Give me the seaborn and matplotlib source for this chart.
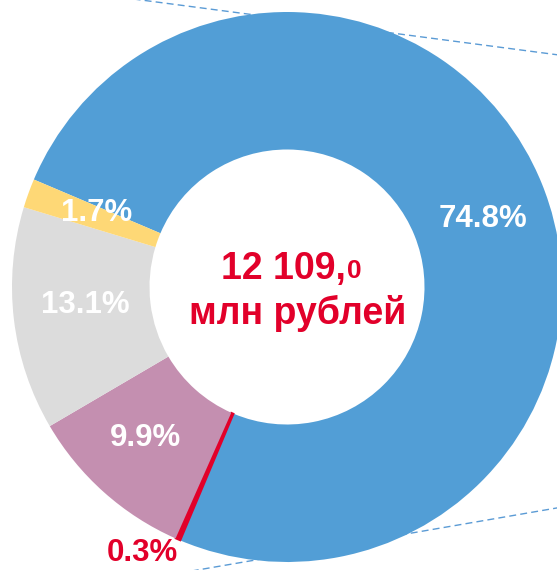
import numpy as np
import seaborn as sns
import matplotlib
matplotlib.use('Agg')
import matplotlib.pyplot as plt

# shares of the total, clockwise from the blue segment
labels = ['74.8%', '0.3%', '9.9%', '13.1%', '1.7%']
shares = [74.8, 0.3, 9.9, 13.1, 1.7]
colors = ['#529ED6', '#E2002A', '#C48FB0', '#DCDCDC', '#FED876']
label_colors = ['white', '#E2002A', 'white', 'white', 'white']
total_big = '12 109,'
total_small = '0'
total_unit = 'млн рублей'

sns.set_style('white')
plt.rcParams['font.family'] = ['Liberation Sans', 'DejaVu Sans']

fig = plt.figure(figsize=(5.57, 5.70), dpi=100)
ax = fig.add_axes([0, 0, 1, 1])

# connector lines behind the donut
ax.plot([-0.70, 1.10], [1.066, 0.829], ls=(0, (5, 3)), color='#5B9BD5', lw=1, zorder=0)
ax.plot([-0.40, 1.10], [-1.042, -0.783], ls=(0, (5, 3)), color='#5B9BD5', lw=1, zorder=0)

wedges, _ = ax.pie(shares, colors=colors, startangle=157, counterclock=False,
                   radius=1.0, wedgeprops=dict(width=0.5, edgecolor='none'))
for w in wedges:
    w.set_zorder(1)
# the thin red slice reads a bit wider in the original
wedges[1].set_edgecolor('#E2002A')
wedges[1].set_linewidth(1.2)

# label placement (data units, manual like the original)
label_pos = [(0.713, 0.247), (-0.527, -0.968), (-0.516, -0.549),
             (-0.735, -0.065), (-0.691, 0.269)]
for txt, (x, y), c in zip(labels, label_pos, label_colors):
    ax.text(x, y, txt, ha='center', va='center', color=c,
            fontsize=22.5, fontweight='bold', zorder=3)

t = ax.text(-0.013, 0.066, total_big, ha='center', va='center', color='#E2002A',
            fontsize=27, fontweight='bold', zorder=3)
ax.annotate(total_small, xy=(1, 0.1), xycoords=t, xytext=(1, 0),
            textcoords='offset points', ha='left', va='bottom',
            color='#E2002A', fontsize=19, fontweight='bold', zorder=3)
ax.text(0.038, -0.098, total_unit, ha='center', va='center', color='#E2002A',
        fontsize=27, fontweight='bold', zorder=3)

ax.set_xlim(-287 / 275, 270 / 275)
ax.set_ylim(-283 / 275, 287 / 275)
ax.set_aspect('equal')
ax.axis('off')

fig.savefig('out.png', dpi=100)
